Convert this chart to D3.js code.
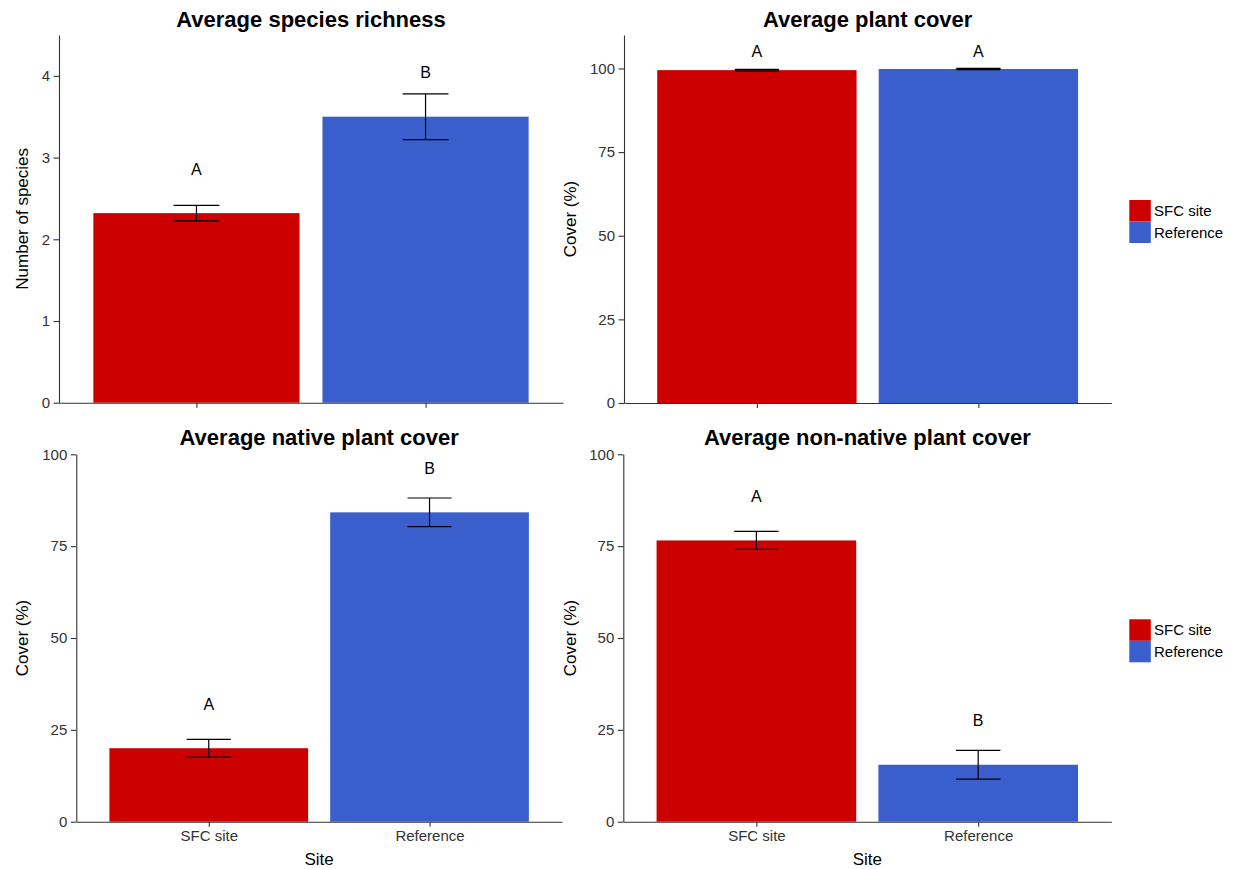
<!DOCTYPE html>
<html>
<head>
<meta charset="utf-8">
<script src="https://cdn.jsdelivr.net/npm/d3@7"></script>
<style>
  body { margin: 0; background: #fff; }
  svg { display: block; font-family: "Liberation Sans", Arial, sans-serif; }
</style>
</head>
<body>
<svg id="chart" width="1234" height="869"></svg>
<script>
// ---- Data ----
const sites = ["SFC site", "Reference"];
const siteColors = ["#CD0000", "#3A5FCD"];

const richnessMean = [2.32, 3.50];
const richnessSE = [0.095, 0.28];
const richnessLetters = ["A", "B"];
const richnessLetterY = [2.86, 4.04];
const richnessTicks = [0, 1, 2, 3, 4];

const coverMean = [99.5, 99.85];
const coverSE = [0.2, 0.2];
const coverLetters = ["A", "A"];
const coverLetterY = [105, 105.2];

const nativeMean = [20.0, 84.2];
const nativeSE = [2.4, 3.9];
const nativeLetters = ["A", "B"];
const nativeLetterY = [32.1, 96.2];

const nonNativeMean = [76.55, 15.5];
const nonNativeSE = [2.45, 3.9];
const nonNativeLetters = ["A", "B"];
const nonNativeLetterY = [88.5, 27.7];

const coverTicks = [0, 25, 50, 75, 100];

// ---- Panels (layout) ----
const panels = [
  { title: "Average species richness", ylab: "Number of species", mean: richnessMean, se: richnessSE,
    letters: richnessLetters, letterY: richnessLetterY, ticks: richnessTicks, ymax: 4.5,
    x0: 59, x1: 563, yTop: 35, yBot: 402.7, titleY: 27, ylabX: 28, xlabels: false },
  { title: "Average plant cover", ylab: "Cover (%)", mean: coverMean, se: coverSE,
    letters: coverLetters, letterY: coverLetterY, ticks: coverTicks, ymax: 110,
    x0: 624, x1: 1111.3, yTop: 35, yBot: 403, titleY: 27, ylabX: 576, xlabels: false },
  { title: "Average native plant cover", ylab: "Cover (%)", mean: nativeMean, se: nativeSE,
    letters: nativeLetters, letterY: nativeLetterY, ticks: coverTicks, ymax: 100,
    x0: 76.3, x1: 562, yTop: 454.3, yBot: 821.7, titleY: 445, ylabX: 28, xlabels: true },
  { title: "Average non-native plant cover", ylab: "Cover (%)", mean: nonNativeMean, se: nonNativeSE,
    letters: nonNativeLetters, letterY: nonNativeLetterY, ticks: coverTicks, ymax: 100,
    x0: 623.3, x1: 1111.3, yTop: 454.3, yBot: 821.7, titleY: 445, ylabX: 576, xlabels: true }
];

const svg = d3.select("#chart");
const textCol = "#333333";
const axisCol = "#333333";

panels.forEach(p => {
  const g = svg.append("g");
  const x = d3.scaleLinear().domain([0.4, 2.6]).range([p.x0, p.x1]);
  const y = d3.scaleLinear().domain([0, p.ymax]).range([p.yBot, p.yTop]);
  const data = sites.map((s, i) => ({ site: s, i: i, pos: i + 1, mean: p.mean[i], se: p.se[i],
    letter: p.letters[i], ly: p.letterY[i], color: siteColors[i] }));

  // bars
  g.selectAll("rect.bar").data(data).enter().append("rect")
    .attr("class", "bar")
    .attr("x", d => x(d.pos - 0.45))
    .attr("width", d => x(d.pos + 0.45) - x(d.pos - 0.45))
    .attr("y", d => y(d.mean))
    .attr("height", d => y(0) - y(d.mean))
    .attr("fill", d => d.color);

  // error bars
  const eb = g.selectAll("g.eb").data(data).enter().append("g").attr("class", "eb")
    .attr("stroke", "#000").attr("stroke-width", 1.2).attr("fill", "none");
  eb.append("line")
    .attr("x1", d => x(d.pos)).attr("x2", d => x(d.pos))
    .attr("y1", d => y(d.mean - d.se)).attr("y2", d => y(d.mean + d.se));
  eb.append("line")
    .attr("x1", d => x(d.pos - 0.1)).attr("x2", d => x(d.pos + 0.1))
    .attr("y1", d => y(d.mean + d.se)).attr("y2", d => y(d.mean + d.se));
  eb.append("line")
    .attr("x1", d => x(d.pos - 0.1)).attr("x2", d => x(d.pos + 0.1))
    .attr("y1", d => y(d.mean - d.se)).attr("y2", d => y(d.mean - d.se));

  // letters
  g.selectAll("text.letter").data(data).enter().append("text")
    .attr("class", "letter")
    .attr("x", d => x(d.pos))
    .attr("y", d => y(d.ly))
    .attr("dy", "0.36em")
    .attr("text-anchor", "middle")
    .attr("font-size", "16px")
    .attr("fill", "#000")
    .text(d => d.letter);

  // y axis
  const ya = g.append("g").attr("transform", `translate(${p.x0},0)`)
    .call(d3.axisLeft(y).tickValues(p.ticks).tickFormat(d3.format("d"))
      .tickSize(5.5).tickSizeOuter(0).tickPadding(3.5));
  // x axis
  const xa = g.append("g").attr("transform", `translate(0,${p.yBot})`)
    .call(d3.axisBottom(x).tickValues([1, 2]).tickSize(5).tickSizeOuter(0).tickPadding(4)
      .tickFormat((d, i) => p.xlabels ? sites[i] : ""));
  [ya, xa].forEach(a => {
    a.select(".domain").attr("stroke", axisCol).attr("stroke-width", 1.1);
    a.selectAll(".tick line").attr("stroke", axisCol).attr("stroke-width", 1.1);
    a.selectAll(".tick text").attr("fill", textCol).attr("font-size", "15px")
      .attr("font-family", "\"Liberation Sans\", Arial, sans-serif");
  });

  // title
  g.append("text")
    .attr("x", (p.x0 + p.x1) / 2).attr("y", p.titleY)
    .attr("text-anchor", "middle")
    .attr("font-size", "22px").attr("font-weight", "bold").attr("fill", "#000")
    .text(p.title);

  // y label
  g.append("text")
    .attr("transform", `translate(${p.ylabX},${(p.yTop + p.yBot) / 2}) rotate(-90)`)
    .attr("text-anchor", "middle")
    .attr("font-size", "17px").attr("fill", "#000")
    .text(p.ylab);

  // x label
  if (p.xlabels) {
    g.append("text")
      .attr("x", (p.x0 + p.x1) / 2).attr("y", 865)
      .attr("text-anchor", "middle")
      .attr("font-size", "17px").attr("fill", "#000")
      .text("Site");
  }
});

// legends
const legendTops = [200, 619.3];
legendTops.forEach(top => {
  const lg = svg.append("g").attr("transform", `translate(1129.3,${top})`);
  lg.selectAll("rect").data(sites).enter().append("rect")
    .attr("x", 0).attr("y", (d, i) => i * 21.5)
    .attr("width", 21.5).attr("height", 21.5)
    .attr("fill", (d, i) => siteColors[i]);
  lg.selectAll("text").data(sites).enter().append("text")
    .attr("x", 24.7).attr("y", (d, i) => i * 21.5 + 10.75)
    .attr("dy", "0.35em")
    .attr("font-size", "15px").attr("fill", "#000")
    .text(d => d);
});
</script>
</body>
</html>
